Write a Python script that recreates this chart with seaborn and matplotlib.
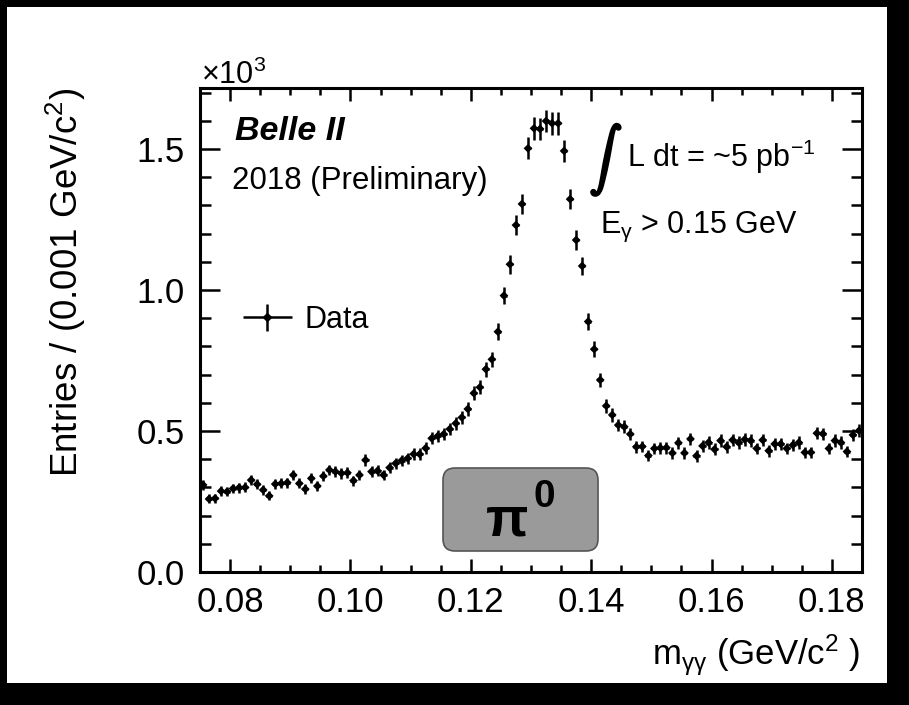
import numpy as np
import pandas as pd
import matplotlib
matplotlib.use("Agg")
import matplotlib.pyplot as plt
import matplotlib.patheffects as pe
import seaborn as sns
from matplotlib.patches import FancyBboxPatch, Rectangle
from matplotlib.transforms import IdentityTransform
from matplotlib.ticker import MultipleLocator, FormatStrFormatter
from matplotlib.legend_handler import HandlerErrorbar

# ---------------- data (entries in units of 10^3 per 0.001 GeV/c^2) ----------------
bin_width = 0.001
mass_low, mass_high = 0.075, 0.185
entries_low = [0.309, 0.259, 0.261, 0.287, 0.285, 0.296, 0.299, 0.300, 0.326, 0.311,
               0.291, 0.270, 0.312, 0.314, 0.317, 0.344, 0.314, 0.294, 0.332, 0.305,
               0.340, 0.362, 0.356, 0.350, 0.352, 0.324, 0.344, 0.397, 0.356, 0.359,
               0.344, 0.370, 0.385, 0.395, 0.403, 0.418, 0.418, 0.439, 0.474, 0.482,
               0.489, 0.507, 0.527, 0.548, 0.578]
entries_peak = [0.634, 0.655, 0.719, 0.754, 0.852, 0.980, 1.091, 1.230, 1.305, 1.502,
                1.573, 1.571, 1.599, 1.591, 1.591, 1.493, 1.322, 1.177, 1.085, 0.888,
                0.790, 0.681, 0.589, 0.557, 0.521, 0.515, 0.489, 0.444]
entries_high = [0.445, 0.413, 0.438, 0.440, 0.441, 0.422, 0.458, 0.422, 0.472, 0.412,
                0.447, 0.459, 0.435, 0.466, 0.444, 0.468, 0.459, 0.470, 0.466, 0.438,
                0.468, 0.430, 0.454, 0.454, 0.438, 0.450, 0.459, 0.424, 0.424, 0.492,
                0.490, 0.438, 0.466, 0.459, 0.427, 0.486, 0.501]
x_ticks = [0.08, 0.10, 0.12, 0.14, 0.16, 0.18]
y_ticks = [0.0, 0.5, 1.0, 1.5]
y_max = 1.716

entries = np.array(entries_low + entries_peak + entries_high)
centers = mass_low + bin_width * (np.arange(len(entries)) + 0.5)
stat_err = np.sqrt(entries * 1000.0) / 1000.0
df = pd.DataFrame({"mass": centers, "entries": entries, "err": stat_err})

# ---------------- style ----------------
W, H = 909, 705
sns.set_theme(style="ticks")
plt.rcParams["font.family"] = ["Liberation Sans", "DejaVu Sans"]
plt.rcParams["mathtext.fontset"] = "custom"
plt.rcParams["mathtext.rm"] = "Liberation Sans"
plt.rcParams["mathtext.it"] = "Liberation Sans:italic"
plt.rcParams["mathtext.bf"] = "Liberation Sans:bold"
for key in ["text.color", "axes.labelcolor", "xtick.color", "ytick.color", "axes.edgecolor"]:
    plt.rcParams[key] = "black"

fig = plt.figure(figsize=(W / 100, H / 100), dpi=100, facecolor="black")
fig.add_artist(Rectangle((7, H - 683), 880, 676, transform=IdentityTransform(),
                         facecolor="white", edgecolor="none", zorder=-5))

ax = fig.add_axes([200 / W, 1 - 572 / H, 662 / W, 484 / H])
ax.set_facecolor("white")

ax.errorbar(df["mass"], df["entries"], xerr=bin_width / 2, yerr=df["err"],
            fmt="none", ecolor="black", elinewidth=1.8, capsize=0, zorder=2)
sns.scatterplot(data=df, x="mass", y="entries", marker="D", s=20, color="black",
                edgecolor="none", linewidth=0, ax=ax, zorder=3, legend=False)

ax.set_xlim(mass_low, mass_high)
ax.set_ylim(0, y_max)
ax.set_xticks(x_ticks)
ax.set_yticks(y_ticks)
ax.xaxis.set_minor_locator(MultipleLocator(0.005))
ax.yaxis.set_minor_locator(MultipleLocator(0.1))
ax.xaxis.set_major_formatter(FormatStrFormatter("%.2f"))
ax.yaxis.set_major_formatter(FormatStrFormatter("%.1f"))

for sp in ax.spines.values():
    sp.set_visible(True)
    sp.set_linewidth(2.2)
    sp.set_color("black")

ax.tick_params(axis="both", which="both", direction="in", top=True, right=True,
               colors="black", width=1.8)
ax.tick_params(axis="x", which="major", length=9.5, labelsize=25, pad=10)
ax.tick_params(axis="x", which="minor", length=5)
ax.tick_params(axis="y", which="major", length=14.5, labelsize=25, pad=11)
ax.tick_params(axis="y", which="minor", length=8)

ax.set_ylabel("Entries / (0.001 GeV/c$^{2}$)", fontsize=26.5, loc="top")
ax.yaxis.set_label_coords(-0.169, 1.0)
ax.set_xlabel(r"m$_{\mathrm{\gamma\gamma}}$ (GeV/c$^{2}$ )", fontsize=25, loc="right")
ax.xaxis.set_label_coords(1.0 - 2 / 662, -0.125)

# ---------------- legend ----------------
eb = ax.errorbar([np.nan], [np.nan], xerr=[1], yerr=[1], fmt="D", color="black",
                 markersize=4.3, elinewidth=1.8, label="Data")
fig.legend(handles=[eb], labels=["Data"], loc="center left",
           bbox_to_anchor=(243 / W, 1 - 320 / H), bbox_transform=fig.transFigure,
           frameon=False, fontsize=22, handlelength=1.6, handletextpad=0.4,
           borderpad=0, borderaxespad=0,
           handler_map={type(eb): HandlerErrorbar(xerr_size=0.8, yerr_size=0.45)})

# ---------------- annotations ----------------
def ftext(px, py, s, **kw):
    return fig.text(px / W, 1 - py / H, s, **kw)

ftext(201, 84, "×10$^{3}$", fontsize=22, va="baseline", ha="left")
ftext(235, 132, "Belle II", fontsize=24.5, weight="bold", style="italic", va="center")
ftext(232, 181, "2018 (Preliminary)", fontsize=22.5, va="center")
ftext(606, 160, r"$\int$", fontsize=23, ha="center", va="center", math_fontfamily="cm",
      path_effects=[pe.withStroke(linewidth=2.2, foreground="black")])
ftext(627, 157, "L dt = ~5 pb$^{-1}$", fontsize=22, va="center")
ftext(600, 227, r"E$_{\mathrm{\gamma}}$ > 0.15 GeV", fontsize=22, va="center")

fig.add_artist(FancyBboxPatch((443, H - 551), 155, 83,
                              boxstyle="round,pad=0,rounding_size=12",
                              transform=IdentityTransform(), facecolor="#9a9a9a",
                              edgecolor="#555555", linewidth=1.2, zorder=5))
ftext(507, 521, "π", fontsize=40, weight="bold", ha="center", va="center", zorder=6)
ftext(544, 497, "0", fontsize=28, weight="bold", ha="center", va="center", zorder=6)

fig.savefig("out.png", dpi=100, facecolor=fig.get_facecolor())
